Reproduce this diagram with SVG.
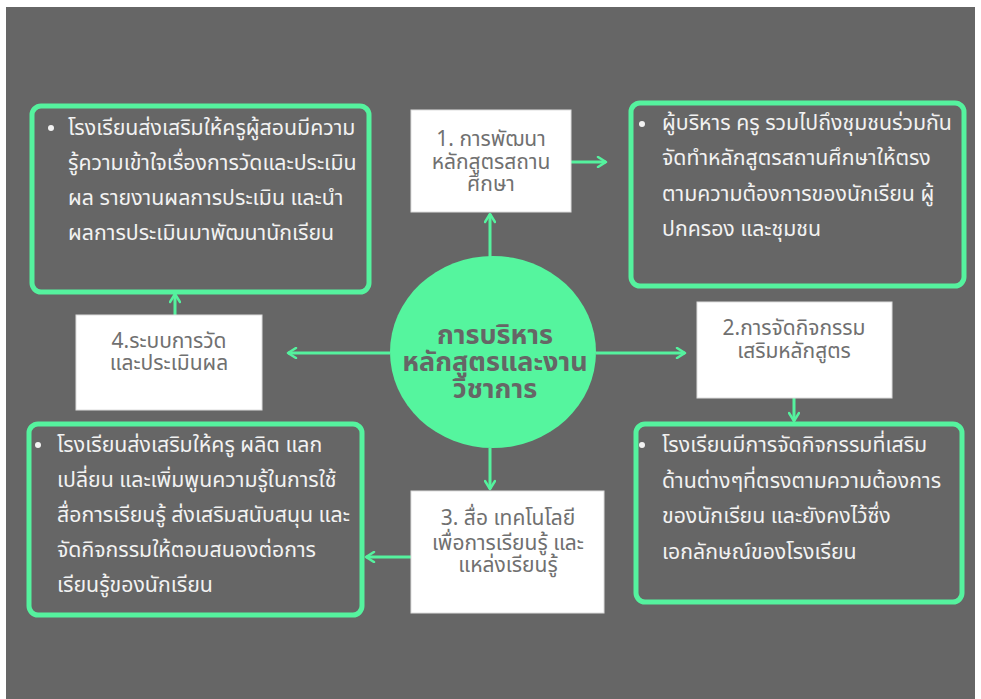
<svg xmlns="http://www.w3.org/2000/svg" width="981" height="699" viewBox="0 0 981 699">
<defs>
<style>
.bg{fill:#666666}
.card{fill:none;stroke:#55f29e;stroke-width:5}
.wbox{fill:#ffffff;stroke:#dddddd;stroke-width:1}
.t{font-family:"Noto Sans Thai","Noto Sans Thai Looped","Noto Sans","DejaVu Sans",sans-serif;font-size:21.3px;fill:#f2f2f2}
.w{font-family:"Noto Sans Thai","Noto Sans Thai Looped","Noto Sans","DejaVu Sans",sans-serif;font-size:21px;fill:#707070;text-anchor:middle}
.c{font-family:"Noto Sans Thai","Noto Sans Thai Looped","Noto Sans","DejaVu Sans",sans-serif;font-size:27px;font-weight:bold;fill:#666666;text-anchor:middle}
.ln{stroke:#55f29e;stroke-width:3;fill:none}
.dot{fill:#f2f2f2}
</style>
<marker id="ah" viewBox="0 0 12 12" refX="10" refY="6" markerWidth="12" markerHeight="12" markerUnits="userSpaceOnUse" orient="auto">
<path d="M2,1 L10,6 L2,11" fill="none" stroke="#55f29e" stroke-width="2.5" stroke-linecap="round" stroke-linejoin="round"/>
</marker>
</defs>
<rect x="0" y="0" width="981" height="699" fill="#ffffff"/>
<rect class="bg" x="6" y="7" width="969" height="692"/>

<g id="connectors">
<line class="ln" x1="490" y1="257" x2="490" y2="214" marker-end="url(#ah)"/>
<line class="ln" x1="571" y1="162" x2="606" y2="162" marker-end="url(#ah)"/>
<line class="ln" x1="390" y1="353" x2="288" y2="353" marker-end="url(#ah)"/>
<line class="ln" x1="596" y1="353" x2="685" y2="353" marker-end="url(#ah)"/>
<line class="ln" x1="175" y1="315" x2="175" y2="294" marker-end="url(#ah)"/>
<line class="ln" x1="794" y1="398" x2="794" y2="421" marker-end="url(#ah)"/>
<line class="ln" x1="490" y1="448" x2="490" y2="489" marker-end="url(#ah)"/>
<line class="ln" x1="411" y1="557" x2="366" y2="557" marker-end="url(#ah)"/>
</g>

<g id="center">
<ellipse cx="493" cy="352" rx="103" ry="96" fill="#55f59e"/>
<text class="c" x="495" y="344">การบริหาร</text>
<text class="c" x="495" y="371">หลักสูตรและงาน</text>
<text class="c" x="495" y="398">วิชาการ</text>
</g>

<g id="box1">
<rect class="wbox" x="411" y="110" width="160" height="102"/>
<text class="w" x="491" y="146">1. การพัฒนา</text>
<text class="w" x="491" y="169">หลักสูตรสถาน</text>
<text class="w" x="491" y="191">ศึกษา</text>
</g>

<g id="box2">
<rect class="wbox" x="697" y="302" width="195" height="96"/>
<text class="w" x="794" y="335">2.การจัดกิจกรรม</text>
<text class="w" x="794" y="358">เสริมหลักสูตร</text>
</g>

<g id="box3">
<rect class="wbox" x="411" y="491" width="193" height="122"/>
<text class="w" x="508" y="525">3. สื่อ เทคโนโลยี</text>
<text class="w" x="508" y="550">เพื่อการเรียนรู้ และ</text>
<text class="w" x="508" y="572">แหล่งเรียนรู้</text>
</g>

<g id="box4">
<rect class="wbox" x="76" y="315" width="186" height="95"/>
<text class="w" x="169" y="348">4.ระบบการวัด</text>
<text class="w" x="169" y="370">และประเมินผล</text>
</g>

<g id="card-tl">
<rect class="card" x="32" y="106" width="337" height="186" rx="9"/>
<circle class="dot" cx="51" cy="128" r="3"/>
<text class="t" x="68" y="135">โรงเรียนส่งเสริมให้ครูผู้สอนมีความ</text>
<text class="t" x="68" y="170">รู้ความเข้าใจเรื่องการวัดและประเมิน</text>
<text class="t" x="68" y="205">ผล รายงานผลการประเมิน และนำ</text>
<text class="t" x="68" y="240">ผลการประเมินมาพัฒนานักเรียน</text>
</g>

<g id="card-tr">
<rect class="card" x="631" y="103" width="333" height="183" rx="9"/>
<circle class="dot" cx="642" cy="124" r="3"/>
<text class="t" x="662" y="130">ผู้บริหาร ครู รวมไปถึงชุมชนร่วมกัน</text>
<text class="t" x="662" y="165">จัดทำหลักสูตรสถานศึกษาให้ตรง</text>
<text class="t" x="662" y="201">ตามความต้องการของนักเรียน ผู้</text>
<text class="t" x="662" y="236">ปกครอง และชุมชน</text>
</g>

<g id="card-bl">
<rect class="card" x="29" y="424" width="333" height="191" rx="9"/>
<circle class="dot" cx="38" cy="445" r="3"/>
<text class="t" x="57" y="452">โรงเรียนส่งเสริมให้ครู ผลิต แลก</text>
<text class="t" x="57" y="487">เปลี่ยน และเพิ่มพูนความรู้ในการใช้</text>
<text class="t" x="57" y="522">สื่อการเรียนรู้ ส่งเสริมสนับสนุน และ</text>
<text class="t" x="57" y="557">จัดกิจกรรมให้ตอบสนองต่อการ</text>
<text class="t" x="57" y="592">เรียนรู้ของนักเรียน</text>
</g>

<g id="card-br">
<rect class="card" x="636" y="424" width="326" height="178" rx="9"/>
<circle class="dot" cx="642" cy="445" r="3"/>
<text class="t" x="662" y="452">โรงเรียนมีการจัดกิจกรรมที่เสริม</text>
<text class="t" x="662" y="488">ด้านต่างๆที่ตรงตามความต้องการ</text>
<text class="t" x="662" y="523">ของนักเรียน และยังคงไว้ซึ่ง</text>
<text class="t" x="662" y="559">เอกลักษณ์ของโรงเรียน</text>
</g>
</svg>
